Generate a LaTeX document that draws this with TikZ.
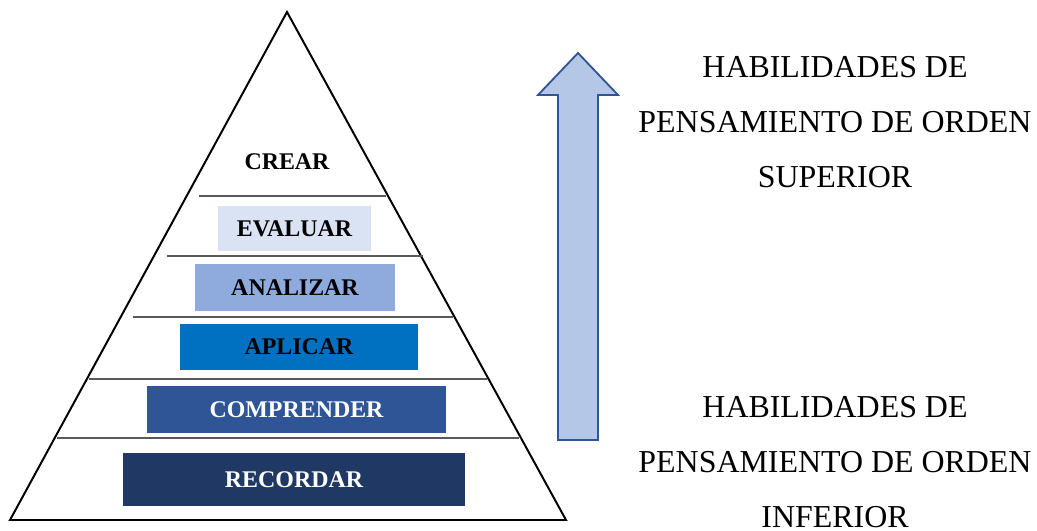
\documentclass[tikz,border=0pt]{standalone}
\usepackage{fontspec}
\setmainfont{Liberation Serif}
\usetikzlibrary{calc}
\definecolor{evalcol}{HTML}{DAE3F3}
\definecolor{analcol}{HTML}{8FAADC}
\definecolor{aplicol}{HTML}{0070C0}
\definecolor{compcol}{HTML}{2F5597}
\definecolor{recocol}{HTML}{203864}
\definecolor{flechacol}{HTML}{B4C7E7}
\tikzset{
  every picture/.style={
    x=0.025cm, y=-0.025cm
  },
  nivel/.style={
    inner sep=0pt, font=\fontsize{17}{20}\selectfont\bfseries
  },
  separador/.style={
    draw=black!65, line width=0.9pt
  },
  habilidad/.style={
    align=center, font=\fontsize{22.7}{39}\selectfont
  }
}

\begin{document}
\begin{tikzpicture}
      \useasboundingbox (0,0) rectangle (1037,531);
      % piramide
      \draw[line width=1.4pt] (287,12) coordinate(A) -- (566,520) coordinate(R)
        -- (10,520) coordinate(L) -- cycle;
      \draw[separador] (199,196) -- (386,196);
      \draw[separador] (167,256) -- (423,256);
      \draw[separador] (133,317) -- (453,317);
      \draw[separador] (89,379) -- (487,379);
      \draw[separador] (57,438) -- (519,438);
      % niveles
      \node[nivel] (crear) at (287,162) {CREAR};
      \node[nivel, fill=evalcol, minimum width=3.83cm, minimum height=1.13cm]
        (evaluar) at (294.5,228.5) {EVALUAR};
      \node[nivel, fill=analcol, minimum width=5cm, minimum height=1.18cm]
        (analizar) at (295,287.5) {ANALIZAR};
      \node[nivel, fill=aplicol, minimum width=5.95cm, minimum height=1.15cm]
        (aplicar) at (299,347) {APLICAR};
      \node[nivel, fill=compcol, text=white, minimum width=7.48cm, minimum height=1.18cm]
        (comprender) at (296.5,409.5) {COMPRENDER};
      \node[nivel, fill=recocol, text=white, minimum width=8.55cm, minimum height=1.33cm]
        (recordar) at (294,479.5) {RECORDAR};
      % flecha
      \draw[fill=flechacol, draw=compcol, line width=1.3pt, line join=miter]
        (558,440) -- (558,95) -- (538,95) -- (578,53) -- (618,95)
        -- (598,95) -- (598,440) -- cycle;
      % textos
      \node[habilidad] (superior) at (835,122)
        {HABILIDADES DE\\PENSAMIENTO DE ORDEN\\SUPERIOR};
      \node[habilidad] (inferior) at (835,462)
        {HABILIDADES DE\\PENSAMIENTO DE ORDEN\\INFERIOR};
\end{tikzpicture}
\end{document}
